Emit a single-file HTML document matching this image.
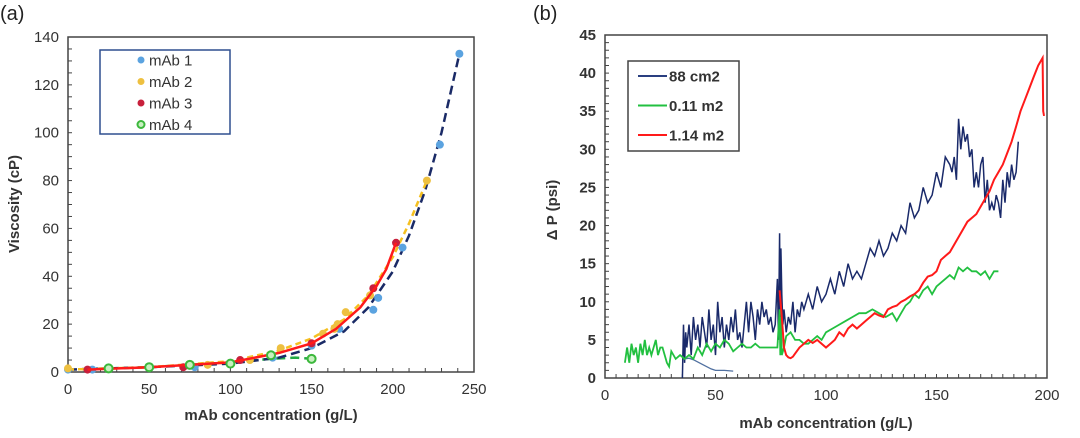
<!DOCTYPE html>
<html><head><meta charset="utf-8">
<style>
body{margin:0;background:#fff;width:1080px;height:433px;overflow:hidden;font-family:"Liberation Sans",Arial,sans-serif}
svg text{font-family:"Liberation Sans",Arial,sans-serif}
</style></head>
<body>
<svg id="c" width="1080" height="433" viewBox="0 0 1080 433" xmlns="http://www.w3.org/2000/svg"></svg>
<script>
// ---- Panel (a) data ----
const aXTicks=[0,50,100,150,200,250];
const aYTicks=[0,20,40,60,80,100,120,140];
const m1X=[0,15,78,126,150,167,188,191,206,229,241];
const m1Y=[1,1,2,6,11,18,26,31,52,95,133];
const m2X=[0,86,112,131,157,164,166,171,186,221];
const m2Y=[1.5,3,5,10,16,18,20,25,32,80];
const m3X=[12,71,106,150,188,202];
const m3Y=[1,2,5,12,35,54];
const m4X=[25,50,75,100,125,150];
const m4Y=[1.5,2,3,3.5,7,5.5];
const f1X=[0,50,100,130,150,170,185,200,210,220,230,241];
const f1Y=[1,2,3.5,6,10,17,27,42,57,76,100,133];
const f2X=[0,50,100,130,150,170,185,200,210,221];
const f2Y=[1,2,4.5,9,14,22,32,48,62,80];
const f3X=[12,50,100,130,150,165,180,190,196,202];
const f3Y=[1,2,4,8,12,18,27,36,43,54];
const f4X=[25,50,75,100,125,140,150];
const f4Y=[1.5,2,3,4,5.5,6,5.5];
// ---- Panel (b) data ----
const bXTicks=[0,50,100,150,200];
const bYTicks=[0,5,10,15,20,25,30,35,40,45];
const blueX=[35,35.5,36,36.5,37,38,39,40,41,42,43,44,45,46,47,48,49,50,51,52,53,54,55,56,57,58,59,60,61,62,63,64,65,66,67,68,69,70,71,72,73,74,75,76,77,78,78.5,79,79.3,79.6,80,80.5,81,82,83,84,85,86,87,88,89,90,92,94,96,98,100,102,104,106,108,110,112,114,116,118,120,122,124,126,128,130,132,134,136,138,140,142,144,146,148,150,152,154,156,157,158,159,160,161,162,163,164,165,166,167,168,169,170,171,172,173,174,175,176,177,178,179,180,181,182,183,184,185,186,187];
const blueY=[0,7,2,6,4,7,3,8,5,7,4,8,6,4,9,5,7,3,10,6,8,4,7,5,8,6,9,5,6,4,7,10,6,10,8,5,9,7,10,8,9,7,8,6,7,13,5,19,3,17,11,7,9,6,8,7,10,6,9,8,10,9,11,9,12,10,11,13,11,14,12,15,13,14,13,15,17,16,18,16,17,19,18,20,19,23,21,22,25,23,24,27,25,29,28,27,29,26,34,30,33,31,32,29,30,25,27,25,28,29,23,26,22,23,22,24,23,21,26,23,27,25,28,26,27,31];
const tailX=[36,38,40,44,48,50,54,58];
const tailY=[2.5,2.6,2.4,1.8,1.2,1,1,0.9];
const greenX=[9,10,11,12,13,14,15,16,17,18,19,20,21,22,23,24,25,26,27,28,29,30,32,34,36,38,40,42,44,46,48,50,52,54,56,58,60,62,64,66,68,70,72,74,76,78,79,79.3,79.6,80,81,82,84,86,88,90,92,94,96,98,100,103,106,109,112,115,118,121,124,127,130,132,134,136,138,140,142,144,146,148,150,152,154,156,158,160,162,164,166,168,170,172,174,176,178];
const greenY=[2,4,2,4.5,3,4,2,4.5,3,5,3,4,3,4,5,3,4,4,3,2,1.5,3.5,2.5,3,2.5,3,2.5,4,3,4.5,3.5,4.5,4,5,4.5,3.5,4,4.5,4,4,4.5,4,4,4,4,4,9,3,8,3,4,5.5,6,5,5,4.5,4.5,5,5.5,5,6,6.5,7,7.5,8,8.5,8.5,9,8.5,8,8.5,7.5,8.5,9.5,10,11,10.5,11.5,12,11,12,12.5,13,13.5,13,14.5,14,14.5,14,14,13.5,14,13,14,14];
const redX=[79,80,81,82,83,84,85,86,88,90,92,94,96,98,100,102,104,106,108,110,112,114,116,118,120,122,124,126,128,130,132,134,136,138,140,142,144,146,148,150,152,154,156,158,160,162,164,166,168,170,172,174,176,178,180,182,184,186,188,190,192,194,196,197,198,198.3,198.6,199];
const redY=[11.5,8,4,3,2.7,2.6,2.8,3.2,4,4.5,5,4.6,5,4.5,4,4.5,5,6,5.5,6.5,7,6.5,7,7.5,8,8.5,8.2,8,9,9.3,9.5,10,10.3,10.7,11,11.5,12.5,13.3,13.5,14,15.5,16,16.5,17.5,18.5,19.5,20.5,21,21.5,22.5,23.5,24.5,26,27,28,29.5,31,33,35,36.5,38,39.5,41,41.5,42,35,34.5,34.5];

const svg=document.getElementById('c');
const NS='http://www.w3.org/2000/svg';
function mk(tag,attrs,parent){const e=document.createElementNS(NS,tag);for(const k in attrs)e.setAttribute(k,attrs[k]);(parent||svg).appendChild(e);return e;}
function txt(s,attrs,parent){const e=mk('text',attrs,parent);e.textContent=s;return e;}

// panel geometry
const A={l:68,r:474,t:37,b:372,xmax:250,ymax:140};
const B={l:605,r:1047,t:35,b:378,xmax:200,ymax:45};
const ax=(p,v)=>p.l+(p.r-p.l)*v/p.xmax;
const ay=(p,v)=>p.b-(p.b-p.t)*v/p.ymax;

function axes(p,xt,yt,minorY,minorX,boldY,name){
  const g=mk('g',{});
  
  
  mk('rect',{x:p.l,y:p.t,width:p.r-p.l,height:p.b-p.t,fill:'none',stroke:'#444','stroke-width':1.5},g);
  for(let v=0;v<=p.ymax+1e-9;v+=minorY){mk('line',{x1:p.l,x2:p.l+4,y1:ay(p,v),y2:ay(p,v),stroke:'#444','stroke-width':1},g);}
  for(let v=0;v<=p.xmax+1e-9;v+=minorX){mk('line',{x1:ax(p,v),x2:ax(p,v),y1:p.b,y2:p.b-4,stroke:'#444','stroke-width':1},g);}
  yt.forEach(v=>{const t=txt(String(v),{x:p.l-9,y:ay(p,v)+5,'text-anchor':'end','font-size':15,fill:'#333','font-weight':boldY?'bold':'normal'},g);
    });
  xt.forEach(v=>{const t=txt(String(v),{x:ax(p,v),y:p.b+22,'text-anchor':'middle','font-size':15,fill:'#333'},g);
    });
}
function path(p,xs,ys,attrs,name){
  const d=xs.map((x,i)=>(i?'L':'M')+ax(p,x).toFixed(1)+' '+ay(p,ys[i]).toFixed(1)).join(' ');
  const e=mk('path',Object.assign({d:d,fill:'none'},attrs));
  
  
  return e;
}
function dots(p,xs,ys,fill,stroke,name){
  xs.forEach((x,i)=>{const c=mk('circle',{cx:ax(p,x),cy:ay(p,ys[i]),r:4,fill:fill,stroke:stroke,'stroke-width':stroke=='none'?0:2});
    });
}

// ---- Panel (a) ----
let t=txt('(a)',{x:0,y:20,'font-size':20,fill:'#222'});
axes(A,aXTicks,aYTicks,5,10,false,'panel-a');
t=txt('mAb concentration (g/L)',{x:271,y:420,'text-anchor':'middle','font-size':15,'font-weight':'bold',fill:'#333'});
t=txt('Viscosity (cP)',{x:0,y:0,'text-anchor':'middle','font-size':15,'font-weight':'bold',fill:'#333',transform:'translate(19,204) rotate(-90)'});
path(A,f4X,f4Y,{stroke:'#22aa44','stroke-width':2.5,'stroke-dasharray':'9,5'},'mab4-fit');
path(A,f1X,f1Y,{stroke:'#1a2a66','stroke-width':2.5,'stroke-dasharray':'9,5'},'mab1-fit');
path(A,f2X,f2Y,{stroke:'#f5c020','stroke-width':2.5,'stroke-dasharray':'6,4'},'mab2-fit');
dots(A,m1X,m1Y,'#5ba3e0','none','mab1-point');
dots(A,m2X,m2Y,'#eec040','none','mab2-point');
dots(A,m3X,m3Y,'#c8203c','none','mab3-point');
path(A,f3X,f3Y,{stroke:'#ff1a1a','stroke-width':2.5},'mab3-fit');
dots(A,m4X,m4Y,'#c8f0c0','#3cb83c','mab4-point');
const lgA=mk('g',{});
mk('rect',{x:100,y:50,width:130,height:84,fill:'#fff',stroke:'#2f4f8f','stroke-width':1.5},lgA);
[['mAb 1','#5ba3e0','none'],['mAb 2','#eec040','none'],['mAb 3','#c8203c','none'],['mAb 4','#c8f0c0','#3cb83c']].forEach((e,i)=>{
  const y=60+i*21.5;const g=mk('g',{},lgA);
  mk('circle',{cx:141,cy:y,r:3.5,fill:e[1],stroke:e[2],'stroke-width':e[2]=='none'?0:2},g);
  txt(e[0],{x:149,y:y+5.5,'font-size':15,fill:'#333'},g);
});

// ---- Panel (b) ----
t=txt('(b)',{x:533,y:20,'font-size':20,fill:'#222'});
axes(B,bXTicks,bYTicks,1,5,true,'panel-b');
t=txt('mAb concentration (g/L)',{x:826,y:428,'text-anchor':'middle','font-size':15,'font-weight':'bold',fill:'#333'});
t=txt('Δ P (psi)',{x:0,y:0,'text-anchor':'middle','font-size':15,'font-weight':'bold',fill:'#333',transform:'translate(557,210) rotate(-90)'});
path(B,tailX,tailY,{stroke:'#5070a0','stroke-width':1.3},'series-88cm2-tail');
path(B,blueX,blueY,{stroke:'#1a2a6a','stroke-width':1.5},'series-88cm2');
path(B,greenX,greenY,{stroke:'#22c040','stroke-width':1.8},'series-0.11m2');
path(B,redX,redY,{stroke:'#ff1a1a','stroke-width':2},'series-1.14m2');
const lgB=mk('g',{});
mk('rect',{x:628,y:61,width:111,height:90,fill:'#fff',stroke:'#444','stroke-width':1.5},lgB);
[['88 cm2','#2a3f80'],['0.11 m2','#22c040'],['1.14 m2','#ff1a1a']].forEach((e,i)=>{
  const y=76+i*29.5;const g=mk('g',{},lgB);
  mk('line',{x1:638,x2:667,y1:y,y2:y,stroke:e[0]=='88 cm2'?e[1]:e[1],'stroke-width':2},g);
  txt(e[0],{x:669,y:y+5.5,'font-size':15,'font-weight':'bold',fill:'#333'},g);
});
</script>
</body></html>
